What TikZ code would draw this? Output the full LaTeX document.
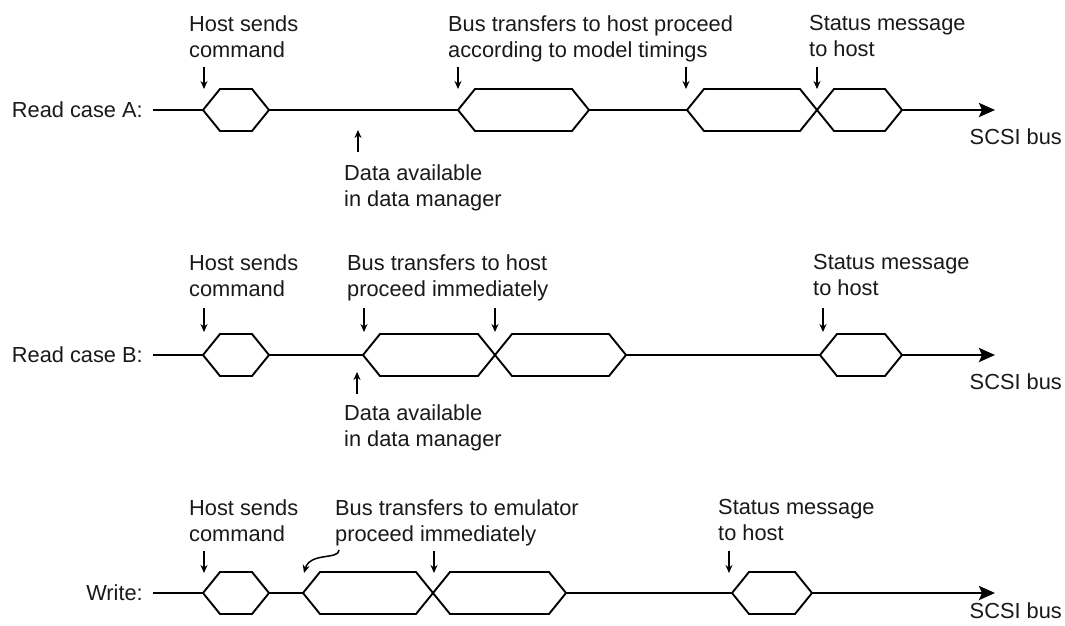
\documentclass[tikz,border=0pt]{standalone}
\usepackage{fontspec}
\setmainfont{Liberation Sans}
\usetikzlibrary{arrows.meta}

\begin{document}
\begin{tikzpicture}[x=1pt, y=-1pt,
  bus/.style={line width=2.7pt, -{Stealth[length=16pt,width=14pt,inset=3pt]}},
  cell/.style={line width=1.9pt, fill=white, line join=miter},
  tick/.style={line width=1.5pt, -{Stealth[length=8pt,width=7pt]}},
  lbl/.style={inner sep=0pt, align=left, text=black!90, font=\fontsize{21.8}{26}\selectfont},
]
\useasboundingbox (0,0) rectangle (1065,625);

% Read case A
\node[lbl, anchor=east] (rowA) at (143,110) {Read case A:};
\coordinate (busA) at (153,110);
\coordinate (endA) at (995,110);
\draw[bus] (busA) -- (endA);
\draw[cell] (203,110) -- (220,89) -- (252,89) -- (269,110) -- (252,131) -- (220,131) -- cycle;
\draw[cell] (458,110) -- (475,89) -- (572,89) -- (589,110) -- (572,131) -- (475,131) -- cycle;
\draw[cell] (687,110) -- (704,89) -- (800,89) -- (817,110) -- (800,131) -- (704,131) -- cycle;
\draw[cell] (817,110) -- (834,89) -- (885,89) -- (902,110) -- (885,131) -- (834,131) -- cycle;

\node[lbl, anchor=north west] (hostA) at (189,15) {Host sends\\command};
\node[lbl, anchor=north west] (xferA) at (448,15) {Bus transfers to host proceed\\according to model timings};
\node[lbl, anchor=north west] (statA) at (809,15) {Status message\\to host};
\node[lbl, anchor=north west] (dataA) at (344,164) {Data available\\in data manager};
\node[lbl, anchor=east] (scsiA) at (1062,137) {SCSI bus};

\draw[tick] (204,67) -- (204,89);
\draw[tick] (458,67) -- (458,89);
\draw[tick] (686,67) -- (686,89);
\draw[tick] (817,67) -- (817,89);
\draw[tick] (358,152) -- (358,130);

% Read case B
\node[lbl, anchor=east] (rowB) at (143,355) {Read case B:};
\coordinate (busB) at (153,355);
\coordinate (endB) at (995,355);
\draw[bus] (busB) -- (endB);
\draw[cell] (203,355) -- (220,334) -- (252,334) -- (269,355) -- (252,376) -- (220,376) -- cycle;
\draw[cell] (363,355) -- (380,334) -- (478,334) -- (495,355) -- (478,376) -- (380,376) -- cycle;
\draw[cell] (495,355) -- (512,334) -- (609,334) -- (626,355) -- (609,376) -- (512,376) -- cycle;
\draw[cell] (820,355) -- (837,334) -- (885,334) -- (902,355) -- (885,376) -- (837,376) -- cycle;

\node[lbl, anchor=north west] (hostB) at (189,254) {Host sends\\command};
\node[lbl, anchor=north west] (xferB) at (347,254) {Bus transfers to host\\proceed immediately};
\node[lbl, anchor=north west] (statB) at (813,254) {Status message\\to host};
\node[lbl, anchor=north west] (dataB) at (344,404) {Data available\\in data manager};
\node[lbl, anchor=east] (scsiB) at (1062,382) {SCSI bus};

\draw[tick] (204,308) -- (204,332);
\draw[tick] (364,308) -- (364,332);
\draw[tick] (495,308) -- (495,332);
\draw[tick] (823,308) -- (823,332);
\draw[tick] (357,394) -- (357,372);

% Write
\node[lbl, anchor=east] (rowW) at (143,593) {Write:};
\coordinate (busW) at (153,593);
\coordinate (endW) at (995,593);
\draw[bus] (busW) -- (endW);
\draw[cell] (203,593) -- (220,572) -- (252,572) -- (269,593) -- (252,614) -- (220,614) -- cycle;
\draw[cell] (303,593) -- (320,572) -- (416,572) -- (433,593) -- (416,614) -- (320,614) -- cycle;
\draw[cell] (433,593) -- (450,572) -- (549,572) -- (566,593) -- (549,614) -- (450,614) -- cycle;
\draw[cell] (732,593) -- (749,572) -- (795,572) -- (812,593) -- (795,614) -- (749,614) -- cycle;

\node[lbl, anchor=north west] (hostW) at (189,499) {Host sends\\command};
\node[lbl, anchor=north west] (xferW) at (335,499) {Bus transfers to emulator\\proceed immediately};
\node[lbl, anchor=north west] (statW) at (718,499) {Status message\\to host};
\node[lbl, anchor=east] (scsiW) at (1062,611) {SCSI bus};

\draw[tick] (204,551) -- (204,573);
\draw[tick] (434,551) -- (434,573);
\draw[tick] (729,551) -- (729,573);
\draw[tick] (339,550) .. controls (339,560) and (310,552) .. (304,573);
\end{tikzpicture}
\end{document}
